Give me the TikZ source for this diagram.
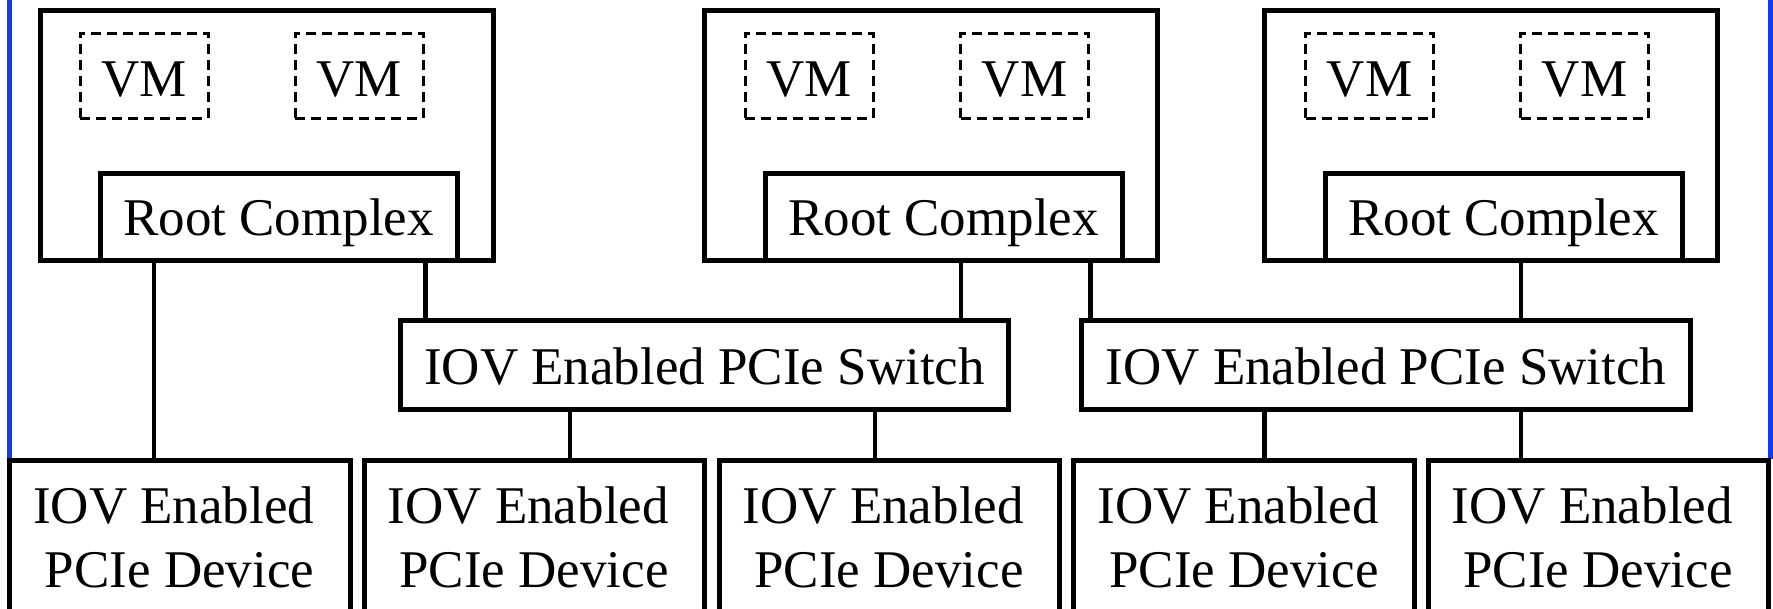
\documentclass[tikz,border=0pt]{standalone}
\usepackage{fontspec}
\setmainfont{Liberation Serif}
\definecolor{frameblue}{RGB}{20,60,235}
\begin{document}
\begin{tikzpicture}[x=1pt,y=-1pt,
  every node/.style={inner sep=0pt, outer sep=0pt, font=\fontsize{53}{64}\selectfont},
  solidbox/.style={draw, line width=5pt, fill=white},
  hostbox/.style={solidbox, minimum width=453pt, minimum height=250.5pt},
  vmbox/.style={draw, line width=3pt, dash pattern=on 10pt off 6pt,
    minimum width=128pt, minimum height=85pt, text height=41pt, text depth=0pt},
  rcbox/.style={solidbox, minimum width=357pt, minimum height=87.5pt, text height=36.5pt, text depth=0pt},
  swbox/.style={solidbox, minimum width=608.5pt, minimum height=89pt, text height=38pt, text depth=0pt},
  devbox/.style={solidbox, minimum width=340.5pt, minimum height=179.5pt},
  devtext/.style={anchor=base east},
  conn/.style={line width=4.6pt},
  bluerule/.style={draw=frameblue, line width=5pt}
]
\useasboundingbox (0,0) rectangle (1773,608);
\clip (0,0) rectangle (1773,608);

% blue frame remnants
\coordinate (bl0) at (9.5,0);
\coordinate (bl1) at (9.5,459);
\coordinate (br0) at (1770.5,0);
\coordinate (br1) at (1770.5,459);
\draw[bluerule] (bl0) -- (bl1);
\draw[bluerule] (br0) -- (br1);

% hosts
\node[hostbox] (h1) at (266.5,135.25) {};
\node[hostbox] (h2) at (930.5,135.25) {};
\node[hostbox] (h3) at (1491,135.25) {};

% VMs
\node[vmbox] (vm11) at (144,75.5) {VM};
\node[vmbox] (vm12) at (359,75.5) {VM};
\node[vmbox] (vm21) at (809,75.5) {VM};
\node[vmbox] (vm22) at (1024.5,75.5) {VM};
\node[vmbox] (vm31) at (1369.5,75.5) {VM};
\node[vmbox] (vm32) at (1584.5,75.5) {VM};

% root complexes
\node[rcbox] (rc1) at (278.5,216.75) {Root Complex};
\node[rcbox] (rc2) at (943.5,216.75) {Root Complex};
\node[rcbox] (rc3) at (1503.5,216.75) {Root Complex};

% switches
\node[swbox] (sw1) at (704.5,365) {IOV Enabled PCIe Switch};
\node[swbox] (sw2) at (1386,365) {IOV Enabled PCIe Switch};

% devices
\node[devbox] (d1) at (179.75,550.25) {};
\node[devbox] (d2) at (534.25,550.25) {};
\node[devbox] (d3) at (889.25,550.25) {};
\node[devbox] (d4) at (1244,550.25) {};
\node[devbox] (d5) at (1598.25,550.25) {};

\foreach \n/\cx in {1/179.75,2/534.25,3/889.25,4/1244,5/1598.25}{
  \node[devtext] (d\n a) at (\cx+134.5,523) {IOV Enabled};
  \node[devtext] (d\n b) at (\cx+134.5,587) {PCIe Device};
}

% connector x positions
\coordinate (c1) at (154,0);
\coordinate (c2) at (425.5,0);
\coordinate (c3) at (961,0);
\coordinate (c4) at (1090.5,0);
\coordinate (c5) at (1521,0);
\coordinate (c6) at (570,0);
\coordinate (c7) at (875,0);
\coordinate (c8) at (1264.5,0);

\draw[conn] (c1 |- rc1.south) -- (c1 |- d1.north);
\draw[conn] (c2 |- rc1.south) -- (c2 |- sw1.north);
\draw[conn] (c3 |- rc2.south) -- (c3 |- sw1.north);
\draw[conn] (c4 |- rc2.south) -- (c4 |- sw2.north);
\draw[conn] (c5 |- rc3.south) -- (c5 |- sw2.north);
\draw[conn] (c6 |- sw1.south) -- (c6 |- d2.north);
\draw[conn] (c7 |- sw1.south) -- (c7 |- d3.north);
\draw[conn] (c8 |- sw2.south) -- (c8 |- d4.north);
\draw[conn] (c5 |- sw2.south) -- (c5 |- d5.north);
\end{tikzpicture}
\end{document}
